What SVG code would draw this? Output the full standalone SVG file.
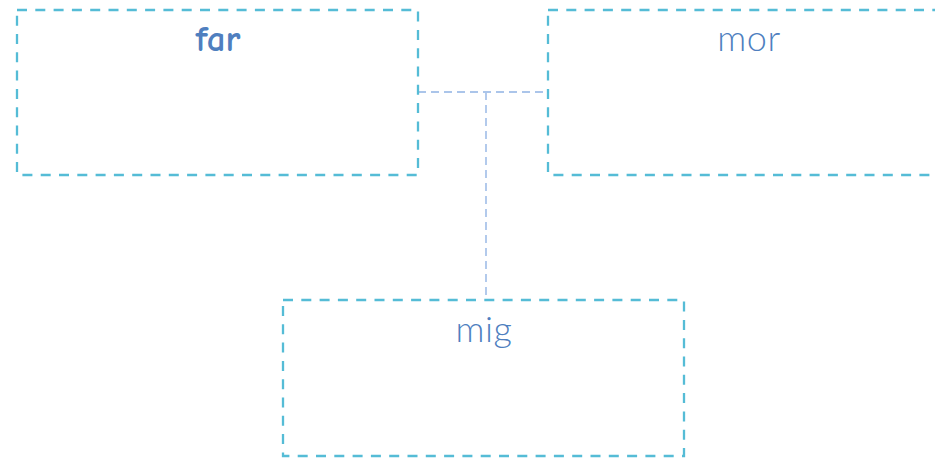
<svg xmlns="http://www.w3.org/2000/svg" width="935" height="458" viewBox="0 0 935 458">
<style>
.box{fill:none;stroke:#55bcd6;stroke-width:2.3;stroke-dasharray:10 8.3}
.conn{fill:none;stroke:#abc5ea;stroke-width:1.8;stroke-dasharray:8 5}
.lbl{font-family:Lato,"Open Sans",sans-serif;font-weight:300;font-size:36px;letter-spacing:0.5px;fill:#4f7fbf;text-anchor:middle}
.far{font-family:"Comic Sans MS","Comic Neue",cursive,sans-serif;font-weight:bold;font-size:37px;fill:#4f7fbf;text-anchor:middle}
</style>
<rect width="935" height="458" fill="#ffffff"/>
<g id="connectors">
<path class="conn" d="M418 92H548"/>
<path class="conn" d="M486 92V300"/>
</g>
<g id="far">
<rect class="box" x="17" y="10" width="401" height="165"/>
<text class="far" x="218" y="51">far</text>
</g>
<g id="mor">
<rect class="box" x="548" y="10" width="401" height="165"/>
<text class="lbl" x="749" y="51">mor</text>
</g>
<g id="mig">
<rect class="box" x="283" y="300" width="401" height="156"/>
<text class="lbl" x="484" y="342">mig</text>
</g>
</svg>
